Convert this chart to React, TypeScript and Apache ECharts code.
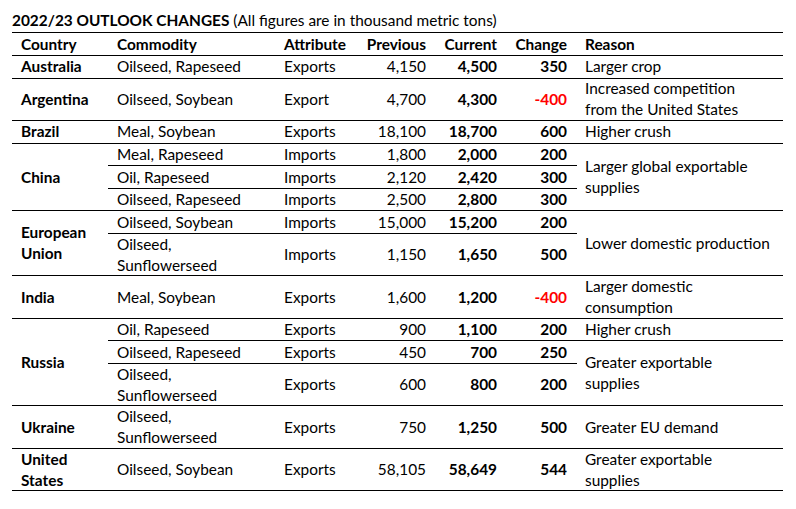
import React, { useEffect, useRef } from 'react';
import * as echarts from 'echarts';

const titleBold = '2022/23 OUTLOOK CHANGES';
const titleRest = ' (All figures are in thousand metric tons)';
const headers = ['Country', 'Commodity', 'Attribute', 'Previous', 'Current', 'Change', 'Reason'];
const countries = ['Australia', 'Argentina', 'Brazil', 'China', 'China', 'China', 'European\nUnion', 'European\nUnion', 'India', 'Russia', 'Russia', 'Russia', 'Ukraine', 'United\nStates'];
const commodities = ['Oilseed, Rapeseed', 'Oilseed, Soybean', 'Meal, Soybean', 'Meal, Rapeseed', 'Oil, Rapeseed', 'Oilseed, Rapeseed', 'Oilseed, Soybean', 'Oilseed,\nSunflowerseed', 'Meal, Soybean', 'Oil, Rapeseed', 'Oilseed, Rapeseed', 'Oilseed,\nSunflowerseed', 'Oilseed,\nSunflowerseed', 'Oilseed, Soybean'];
const attributes = ['Exports', 'Export', 'Exports', 'Imports', 'Imports', 'Imports', 'Imports', 'Imports', 'Exports', 'Exports', 'Exports', 'Exports', 'Exports', 'Exports'];
const previous = [4150, 4700, 18100, 1800, 2120, 2500, 15000, 1150, 1600, 900, 450, 600, 750, 58105];
const current = [4500, 4300, 18700, 2000, 2420, 2800, 15200, 1650, 1200, 1100, 700, 800, 1250, 58649];
const change = [350, -400, 600, 200, 300, 300, 200, 500, -400, 200, 250, 200, 500, 544];
const reasons = ['Larger crop', 'Increased competition\nfrom the United States', 'Higher crush', 'Larger global exportable\nsupplies', 'Lower domestic production', 'Larger domestic\nconsumption', 'Higher crush', 'Greater exportable\nsupplies', 'Greater EU demand', 'Greater exportable\nsupplies'];
const reasonSpans = [1, 1, 1, 3, 2, 1, 1, 2, 1, 1];

const FONT = 'Lato, "Open Sans", sans-serif';
const FS = 15.4;
const LH = 21;
const L = 12, R = 783, COMM_X = 108, CHG_END = 577;
const TITLE_Y = 20, TOP = 32, HEADER_H = 23;
const SINGLE_H = 22.6, DOUBLE_H = 42.4;
const colX = [21, 117, 284, 426, 497, 567, 585];
const colAlign = ['left', 'left', 'left', 'right', 'right', 'right', 'left'];

const fmt = (v: number) => v.toLocaleString('en-US');
const nLines = (s: string) => s.split('\n').length;

function buildGraphics() {
  const g: any[] = [];
  const text = (x: number, y: number, t: string, align: string, bold = false, fill = '#000') => {
    g.push({
      type: 'text', x, y, silent: true,
      style: {
        text: t, fill, fontFamily: FONT, fontSize: FS, fontWeight: bold ? 'bold' : 'normal',
        lineHeight: LH, align, verticalAlign: 'middle', textAlign: align, textVerticalAlign: 'middle',
      },
    });
  };
  const line = (x1: number, x2: number, y: number) => {
    const yy = Math.round(y) + 0.5;
    g.push({ type: 'line', silent: true, shape: { x1, y1: yy, x2, y2: yy }, style: { stroke: '#000', lineWidth: 1 } });
  };

  // title
  g.push({
    type: 'text', x: L, y: TITLE_Y, silent: true,
    style: {
      text: `{b|${titleBold}}{n|${titleRest}}`,
      fill: '#000', fontFamily: FONT, fontSize: FS,
      align: 'left', verticalAlign: 'middle', textAlign: 'left', textVerticalAlign: 'middle',
      rich: {
        b: { fontFamily: FONT, fontSize: FS, fontWeight: 'bold', fill: '#000' },
        n: { fontFamily: FONT, fontSize: FS, fontWeight: 'normal', fill: '#000' },
      },
    },
  });

  const reasonOfRow: number[] = [];
  reasonSpans.forEach((s, i) => { for (let k = 0; k < s; k++) reasonOfRow.push(i); });
  const countrySpan: number[] = countries.map(c => countries.filter(x => x === c).length);

  const heights = countries.map((c, i) => {
    let n = nLines(commodities[i]);
    if (countrySpan[i] === 1) n = Math.max(n, nLines(c));
    if (reasonSpans[reasonOfRow[i]] === 1) n = Math.max(n, nLines(reasons[reasonOfRow[i]]));
    return n > 1 ? DOUBLE_H : SINGLE_H;
  });
  const tops: number[] = [];
  let y = TOP + HEADER_H;
  heights.forEach(h => { tops.push(y); y += h; });
  const bottoms = tops.map((t, i) => t + heights[i]);

  line(L, R, TOP);
  headers.forEach((h, j) => text(colX[j], TOP + HEADER_H / 2, h, colAlign[j], true));
  line(L, R, TOP + HEADER_H);

  countries.forEach((c, i) => {
    const cy = tops[i] + heights[i] / 2;
    text(colX[1], cy, commodities[i], 'left');
    text(colX[2], cy, attributes[i], 'left');
    text(colX[3], cy, fmt(previous[i]), 'right');
    text(colX[4], cy, fmt(current[i]), 'right', true);
    text(colX[5], cy, fmt(change[i]), 'right', true, change[i] < 0 ? '#FF0000' : '#000');
    if (i === 0 || countries[i - 1] !== c) {
      let j = i;
      while (j + 1 < countries.length && countries[j + 1] === c) j++;
      text(colX[0], (tops[i] + bottoms[j]) / 2, c, 'left', true);
    }
    if (i === 0 || reasonOfRow[i - 1] !== reasonOfRow[i]) {
      const span = reasonSpans[reasonOfRow[i]];
      text(colX[6], (tops[i] + bottoms[i + span - 1]) / 2, reasons[reasonOfRow[i]], 'left');
    }
    const last = i === countries.length - 1;
    if (last || countries[i + 1] !== c) line(L, R, bottoms[i]);
    else if (reasonOfRow[i + 1] !== reasonOfRow[i]) line(COMM_X, R, bottoms[i]);
    else line(COMM_X, CHG_END, bottoms[i]);
  });
  return g;
}

export default function App() {
  const ref = useRef<HTMLDivElement>(null);
  useEffect(() => {
    if (!ref.current) return;
    const chart = echarts.init(ref.current, undefined, { renderer: 'svg' });
    chart.setOption({
      animation: false,
      backgroundColor: '#fff',
      graphic: { elements: buildGraphics() },
    });
    return () => chart.dispose();
  }, []);
  return <div ref={ref} style={{ position: 'fixed', left: 0, top: 0, width: 796, height: 509, background: '#fff' }} />;
}
